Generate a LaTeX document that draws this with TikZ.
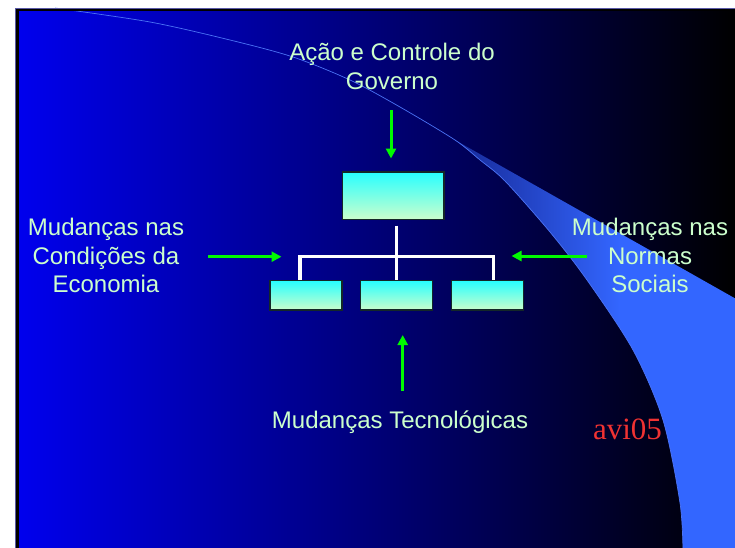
\documentclass[tikz,border=0pt]{standalone}
\usepackage{fontspec}
\setmainfont{Liberation Sans}
\newfontfamily\timesfont{Liberation Serif}
\usetikzlibrary{arrows.meta,calc}
\definecolor{mint}{RGB}{204,255,204}
\definecolor{bgblue}{RGB}{0,0,238}
\definecolor{bgmid}{RGB}{0,0,160}
\definecolor{bgdark}{RGB}{0,0,0}
\definecolor{swoosh}{RGB}{51,102,255}
\definecolor{swooshdk}{RGB}{22,40,150}
\definecolor{swline}{RGB}{75,115,245}
\definecolor{boxtop}{RGB}{40,255,255}
\definecolor{boxbot}{RGB}{204,255,204}
\definecolor{boxline}{RGB}{20,40,40}
\definecolor{agreen}{RGB}{0,250,0}
\definecolor{avired}{RGB}{240,50,50}
\tikzset{
  lbl/.style={inner sep=0pt, anchor=base, align=center, text=mint,
    font=\fontsize{24}{28.5}\selectfont},
  orgbox/.style={draw=boxline, line width=1.2pt, inner sep=0pt,
    top color=boxtop, bottom color=boxbot},
  wline/.style={draw=white, line width=3.3pt, line join=miter},
  garrow/.style={draw=agreen, line width=3pt,
    -{Triangle[length=10pt,width=10pt]}, agreen},
}
\begin{document}
\begin{tikzpicture}[x=1pt,y=-1pt]
\useasboundingbox (0,0) rectangle (735,547);
\clip (0,0) rectangle (735,547);
% page
\fill[white] (0,0) rectangle (735,547);
% slide background
\shade[left color=bgblue, middle color=bgmid, right color=bgdark]
  (17,10) rectangle (735,550);
% swoosh
\begin{scope}
  \clip plot[smooth] coordinates {(455,140) (480,160) (505,181) (550,232)
    (587,280) (633,350) (663,420) (680,503) (683,552)}
    -- (745,552) -- (745,304) -- cycle;
  \shade[left color=swooshdk, right color=swoosh] (452,130) rectangle (620,560);
  \fill[swoosh] (619,130) rectangle (745,560);
\end{scope}
\draw[swline, line width=0.7pt] plot[smooth] coordinates {(55,8) (150,22)
  (230,40) (293,57) (350,80) (400,107) (455,140) (480,160) (505,181)
  (550,232) (587,280) (633,350) (663,420) (680,503) (683,552)};
% slide border
\draw[black, line width=2.6pt] (17.5,560) -- (17.5,10) -- (745,10);
\draw[gray!70!blue, line width=0.7pt] (15.6,560) -- (15.6,8.5) -- (745,8.5);

% labels (base anchor = baseline of the last line)
\node[lbl] (gov) at (392,89.3) {Ação e Controle do\\Governo};
\node[lbl] (econ) at (106,292.7) {Mudanças nas\\Condições da\\Economia};
\node[lbl] (soc) at (650,292.5) {Mudanças nas\\Normas\\Sociais};
\node[lbl] (tec) at (400,428.3) {Mudanças Tecnológicas};
\node[inner sep=0pt, anchor=base, text=avired,
  font=\timesfont\fontsize{31}{36}\selectfont] (avi) at (627.5,439.3) {avi05};

% org chart boxes
\node[orgbox, minimum width=101.3pt, minimum height=47.7pt] (top) at (393.4,195.9) {};
\node[orgbox, minimum width=72pt, minimum height=29.3pt] (b1) at (306,295.4) {};
\node[orgbox, minimum width=72.4pt, minimum height=29.3pt] (b2) at (396.5,295.4) {};
\node[orgbox, minimum width=72pt, minimum height=29.3pt] (b3) at (487.3,295.4) {};

% tree connectors
\coordinate (bus) at (396.5,256.7);
\draw[wline] ([yshift=-5.3pt]top.south -| b2.north) -- (b2.north);
\draw[wline] ([xshift=-6pt]b1.north) |- (bus) -| ([xshift=6pt]b3.north);

% green arrows
\coordinate (gT0) at (391,110);
\coordinate (gT1) at (391,158.5);
\coordinate (gL0) at (208,256.7);
\coordinate (gL1) at (281.5,256.7);
\coordinate (gR0) at (586.5,256);
\coordinate (gR1) at (511.5,256);
\coordinate (gB0) at (402.7,390.7);
\coordinate (gB1) at (402.7,335);
\draw[garrow] (gT0) -- (gT1);
\draw[garrow] (gL0) -- (gL1);
\draw[garrow] (gR0) -- (gR1);
\draw[garrow] (gB0) -- (gB1);
\end{tikzpicture}
\end{document}
